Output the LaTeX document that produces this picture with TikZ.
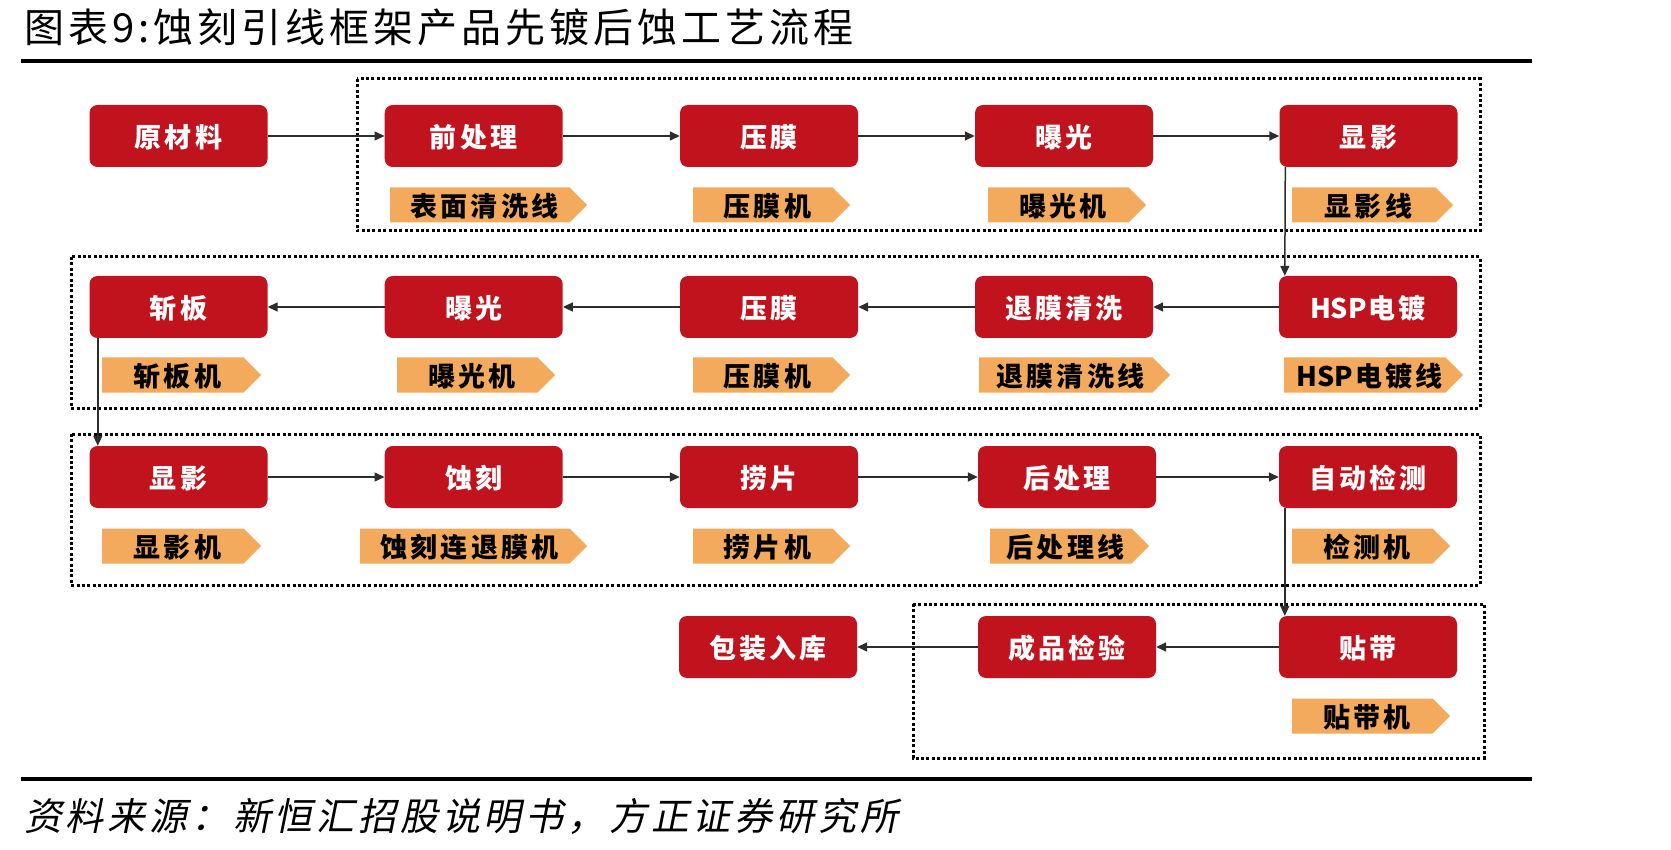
\documentclass[tikz,border=0pt]{standalone}
\usepackage{fontspec}
\setmainfont{Noto Sans CJK SC}
\newfontfamily\cjkttl[LetterSpace=10]{Noto Sans CJK SC}
\newfontfamily\cjkit[FakeSlant=0.2,LetterSpace=10]{Noto Sans CJK SC}
\newfontfamily\cjkbox[LetterSpace=12]{Noto Sans CJK SC}
\newfontfamily\latnarrow{Noto Sans CJK SC}
\newcommand{\hsp}{{\latnarrow HSP}\hspace{2pt}}
\usetikzlibrary{arrows.meta,shapes.symbols}
\definecolor{boxred}{RGB}{193,19,29}
\definecolor{tagor}{RGB}{244,170,92}
\definecolor{linec}{RGB}{45,45,45}
\begin{document}
\begin{tikzpicture}[x=1pt,y=-1pt,
 proc/.style={fill=boxred, rounded corners=8pt, minimum width=178pt, minimum height=62pt, inner sep=0pt, text depth=0pt, text=white, font=\cjkbox\bfseries\fontsize{27}{27}\selectfont},
 tag/.style={shape=signal, signal to=east, signal from=nowhere, fill=tagor, minimum height=35pt, inner sep=0pt, text depth=0pt, anchor=west, text=black, font=\cjkbox\bfseries\fontsize{27}{27}\selectfont, execute at begin node={\hspace*{9pt}}},
 flow/.style={draw=linec, line width=1.5pt, -{Triangle[length=10pt,width=9pt]}},
 group/.style={draw=black, line width=3pt, dash pattern=on 3pt off 2.4pt},
 rulebar/.style={draw=black, line width=4.5pt}]
\useasboundingbox (0,0) rectangle (1671,850);
\fill[white] (0,0) rectangle (1671,850);

% title and source
\node[anchor=west, inner sep=0pt, font=\cjkttl\fontsize{40}{40}\selectfont] (title) at (24,27) {图表9:蚀刻引线框架产品先镀后蚀工艺流程};
\draw[rulebar] (21,61) -- (1532,61);
\draw[rulebar] (21,779) -- (1532,779);
\node[anchor=west, inner sep=0pt, font=\cjkit\fontsize{38}{38}\selectfont] (src) at (24,816) {资料来源：新恒汇招股说明书，方正证券研究所};

% dotted groups
\draw[group] (357,79) rectangle (1480,231);
\draw[group] (71,257) rectangle (1480,408);
\draw[group] (71,434) rectangle (1480,585);
\draw[group] (913,604) rectangle (1484,758);

% row 1
\node[proc] (a1) at (178.5,136) {原材料};
\node[proc] (a2) at (473.7,136) {前处理};
\node[proc] (a3) at (769,136) {压膜};
\node[proc] (a4) at (1064,136) {曝光};
\node[proc] (a5) at (1368.5,136) {显影};
% row 2
\node[proc] (b1) at (178.5,307) {斩板};
\node[proc] (b2) at (473.7,307) {曝光};
\node[proc] (b3) at (769,307) {压膜};
\node[proc] (b4) at (1064,307) {退膜清洗};
\node[proc] (b5) at (1368,307) {\hsp 电镀};
% row 3
\node[proc] (c1) at (178.5,477) {显影};
\node[proc] (c2) at (473.7,477) {蚀刻};
\node[proc] (c3) at (769,477) {捞片};
\node[proc] (c4) at (1067,477) {后处理};
\node[proc] (c5) at (1368,477) {自动检测};
% row 4
\node[proc] (d3) at (768,647) {包装入库};
\node[proc] (d4) at (1067,647) {成品检验};
\node[proc] (d5) at (1368,647) {贴带};

% tags
\node[tag, minimum width=197pt] (ta2) at (390,205) {表面清洗线};
\node[tag, minimum width=157pt] (ta3) at (693,205) {压膜机};
\node[tag, minimum width=158pt] (ta4) at (988,205) {曝光机};
\node[tag, minimum width=161pt] (ta5) at (1292,205) {显影线};
\node[tag, minimum width=159pt] (tb1) at (102,375) {斩板机};
\node[tag, minimum width=158pt] (tb2) at (397,375) {曝光机};
\node[tag, minimum width=157pt] (tb3) at (693,375) {压膜机};
\node[tag, minimum width=191pt] (tb4) at (979,375) {退膜清洗线};
\node[tag, minimum width=179pt] (tb5) at (1284,375) {\hsp 电镀线};
\node[tag, minimum width=159pt] (tc1) at (102,546) {显影机};
\node[tag, minimum width=227pt] (tc2) at (360,546) {蚀刻连退膜机};
\node[tag, minimum width=157pt] (tc3) at (693,546) {捞片机};
\node[tag, minimum width=159pt] (tc4) at (990,546) {后处理线};
\node[tag, minimum width=158pt] (tc5) at (1292,546) {检测机};
\node[tag, minimum width=158pt] (td5) at (1292,716) {贴带机};

% connectors
\draw[flow] (a1) -- (a2);
\draw[flow] (a2) -- (a3);
\draw[flow] (a3) -- (a4);
\draw[flow] (a4) -- (a5);
\draw[flow] ([xshift=6pt]a5.south west) -- ([xshift=6pt]b5.north west);
\draw[flow] (b5) -- (b4);
\draw[flow] (b4) -- (b3);
\draw[flow] (b3) -- (b2);
\draw[flow] (b2) -- (b1);
\draw[flow] ([xshift=8.5pt]b1.south west) -- ([xshift=8.5pt]c1.north west);
\draw[flow] (c1) -- (c2);
\draw[flow] (c2) -- (c3);
\draw[flow] (c3) -- (c4);
\draw[flow] (c4) -- (c5);
\draw[flow] ([xshift=6pt]c5.south west) -- ([xshift=6pt]d5.north west);
\draw[flow] (d5) -- (d4);
\draw[flow] (d4) -- (d3);
\end{tikzpicture}
\end{document}
